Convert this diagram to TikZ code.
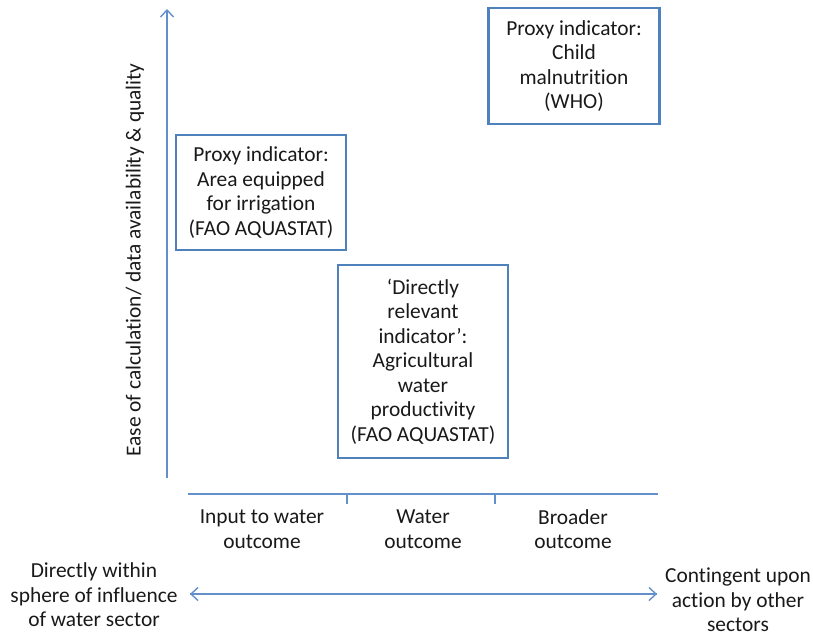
\documentclass[tikz,border=0pt]{standalone}
\usepackage{fontspec}
\setmainfont[Ligatures=NoCommon]{Carlito}
\usetikzlibrary{arrows.meta}
\definecolor{boxblue}{HTML}{4F81BD}
\definecolor{axisblue}{HTML}{6390CC}
\begin{document}
\begin{tikzpicture}[x=1pt,y=-1pt,
  txt/.style={align=center,font=\fontsize{21.4}{24.5}\selectfont,text=black!90,inner sep=0pt},
  ibox/.style={draw=boxblue,line width=2.6pt,inner sep=0pt},
  axis/.style={draw=axisblue,line width=1.4pt},
  tip/.style={-{Straight Barb[length=7pt,width=13pt,line width=1.4pt]}}]
\useasboundingbox (0,0) rectangle (813,637);
% boxes
\node[ibox,minimum width=170pt,minimum height=115pt] (b1) at (261,192.5) {};
\node[txt] (t1) at (b1.center) {Proxy indicator:\\Area equipped\\for irrigation\\(FAO AQUASTAT)};
\node[ibox,minimum width=170pt,minimum height=193pt] (b2) at (423,361.5) {};
\node[txt] (t2) at (b2.center) {‘Directly\\relevant\\indicator’:\\Agricultural\\water\\productivity\\(FAO AQUASTAT)};
\node[ibox,minimum width=171pt,minimum height=116pt] (b3) at (574,66) {};
\node[txt] (t3) at (b3.center) {Proxy indicator:\\Child\\malnutrition\\(WHO)};
% vertical axis
\coordinate (ybot) at (167,478);
\coordinate (ytop) at (167,9);
\draw[axis,tip] (ybot) -- (ytop);
\node[txt,rotate=90] (ylab) at (135,260) {Ease of calculation/ data availability \& quality};
% horizontal axis with ticks
\coordinate (xl) at (188,494);
\coordinate (xr) at (658,494);
\draw[axis] (xl) -- (xr);
\coordinate (k1) at (347,494);
\coordinate (k2) at (495,494);
\draw[axis] (k1) -- ++(0,10);
\draw[axis] (k2) -- ++(0,10);
\node[txt] (c1) at (262,529) {Input to water\\outcome};
\node[txt] (c2) at (423,529) {Water\\outcome};
\node[txt] (c3) at (573,529) {Broader\\outcome};
% bottom double arrow
\node[txt] (l) at (94,595) {Directly within\\sphere of influence\\of water sector};
\node[txt] (r) at (738,600) {Contingent upon\\action by other\\sectors};
\coordinate (al) at (190,594);
\coordinate (ar) at (657,594);
\draw[axis,tip] (al) -- (ar);
\draw[axis,tip] (ar) -- (al);
\end{tikzpicture}
\end{document}
